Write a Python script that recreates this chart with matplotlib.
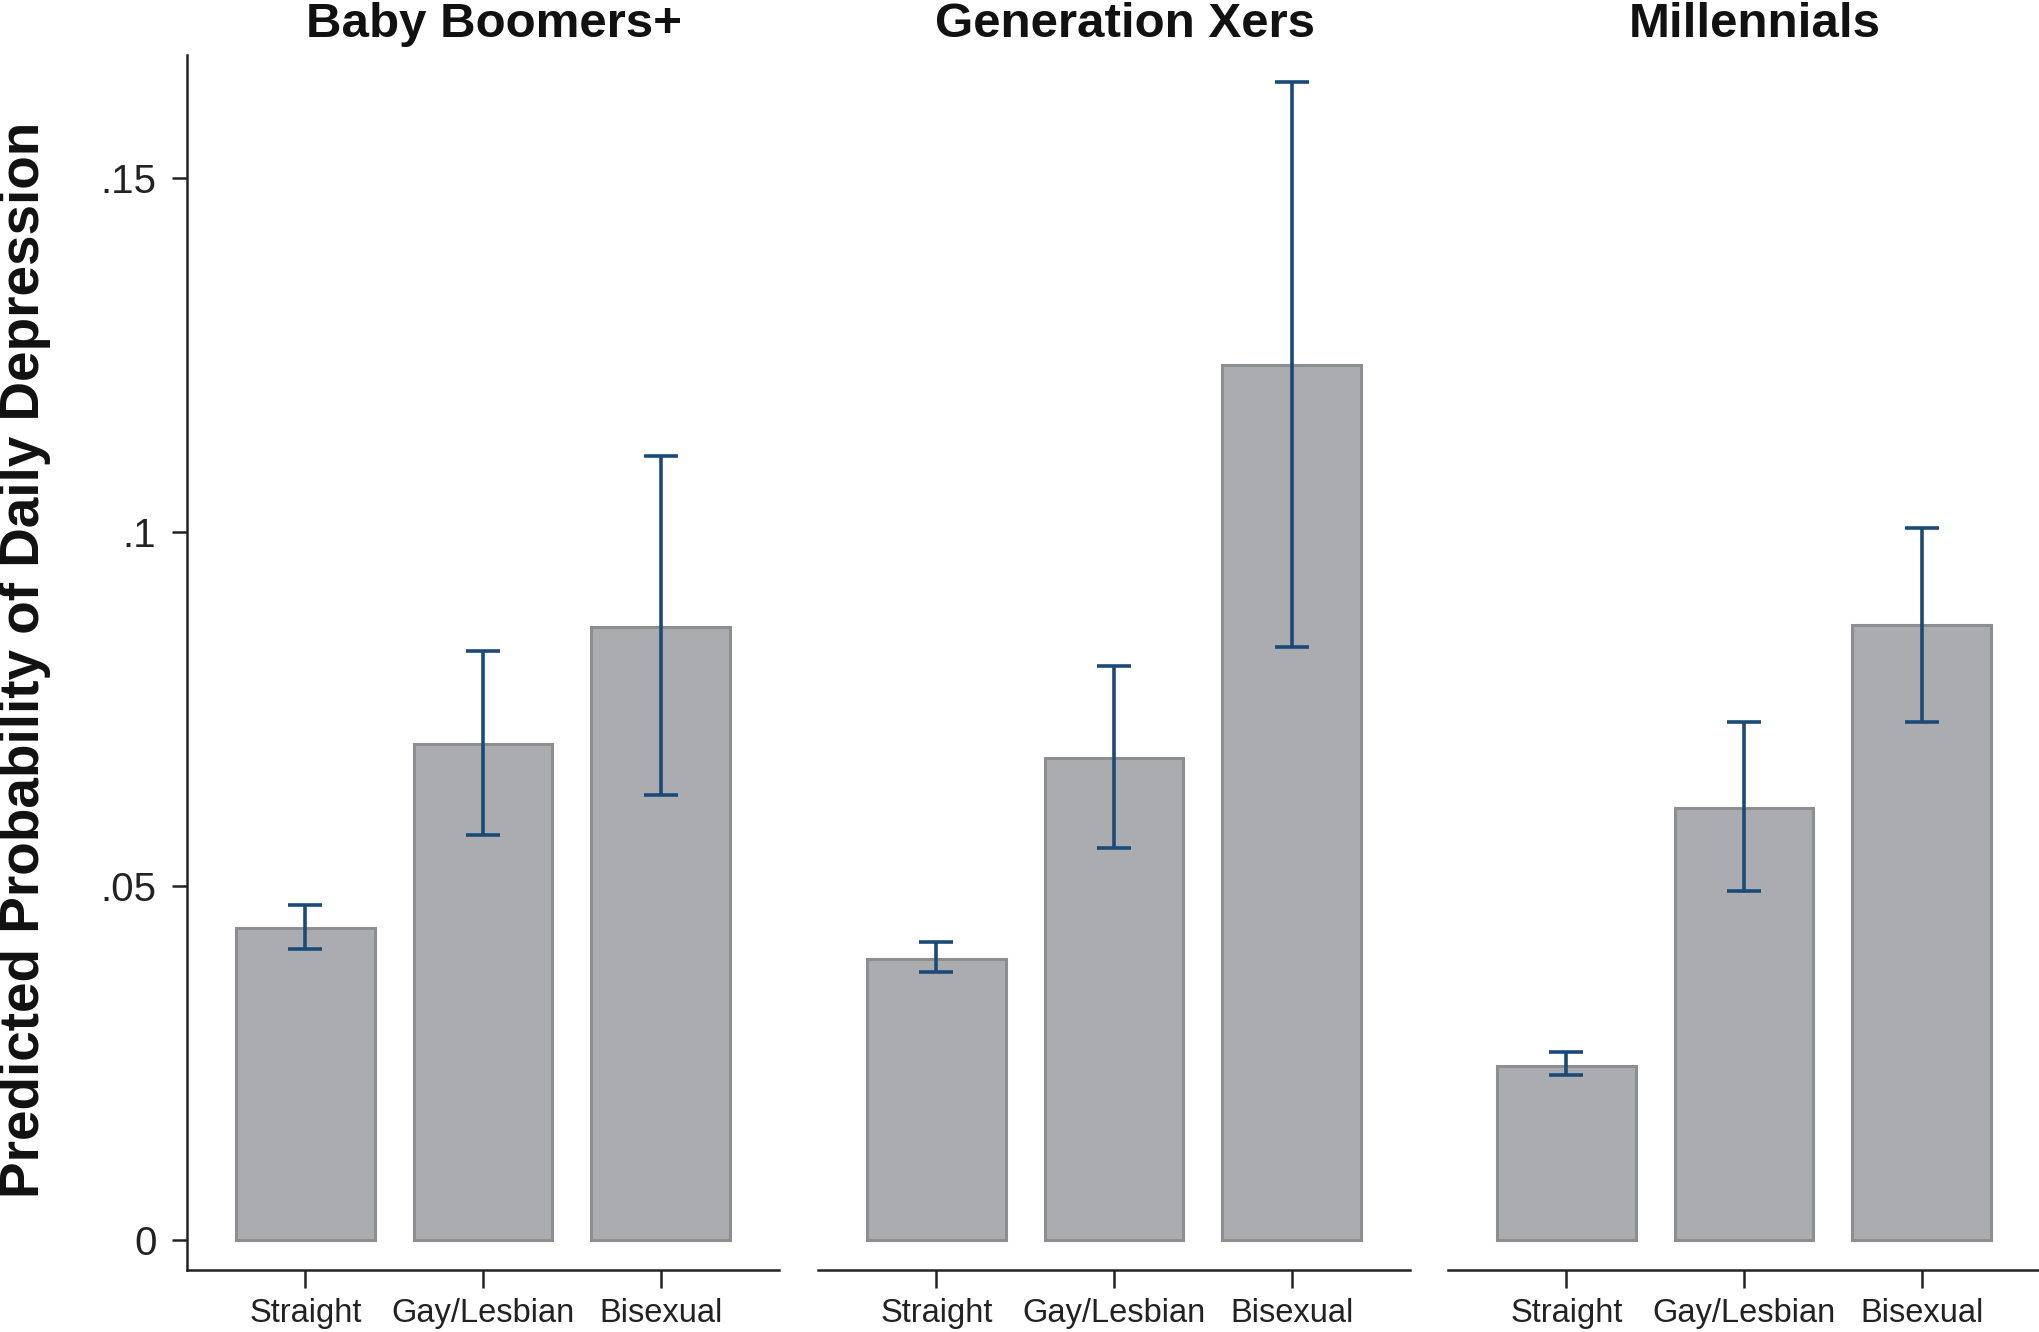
import matplotlib
matplotlib.use("Agg")
import matplotlib.pyplot as plt
import numpy as np

plt.rcParams['font.family'] = ['Liberation Sans', 'DejaVu Sans']

panels = ["Baby Boomers+", "Generation Xers", "Millennials"]
categories = ["Straight", "Gay/Lesbian", "Bisexual"]
values = [
    [0.0440, 0.0701, 0.0866],
    [0.0397, 0.0680, 0.1235],
    [0.0246, 0.0610, 0.0868],
]
ci_low = [
    [0.0411, 0.0572, 0.0628],
    [0.0379, 0.0553, 0.0838],
    [0.0233, 0.0493, 0.0732],
]
ci_high = [
    [0.0473, 0.0832, 0.1107],
    [0.0421, 0.0811, 0.1636],
    [0.0265, 0.0732, 0.1006],
]
yticks = [0, 0.05, 0.10, 0.15]
yticklabels = ["0", ".05", ".1", ".15"]
ylabel = "Predicted Probability of Daily Depression"

W, H = 2040, 1332
fig = plt.figure(figsize=(W / 100, H / 100), dpi=100)

bar_face = "#abacb0"
bar_edge = "#8d8e92"
err_col = "#1b4a78"

lefts = [187, 818, 1448]
pw = 592
top_px, bot_px = 54.6, 1270
x = np.arange(len(categories))

for i, name in enumerate(panels):
    ax = fig.add_axes([lefts[i] / W, (H - bot_px) / H, pw / W, (bot_px - top_px) / H])
    v = np.array(values[i])
    lo = np.array(ci_low[i])
    hi = np.array(ci_high[i])
    ax.bar(x, v, width=0.78, color=bar_face, edgecolor=bar_edge, linewidth=2.2, zorder=2)
    ax.errorbar(x, v, yerr=[v - lo, hi - v], fmt="none", ecolor=err_col,
                elinewidth=2.6, capsize=12, capthick=2.6, zorder=3)
    ax.set_xlim(-0.667, 2.667)
    ax.set_ylim(-0.00424, 0.1674)
    ax.set_xticks(x)
    ax.set_xticklabels(categories, fontsize=23.5, color="#222222")
    ax.tick_params(axis="x", length=13, width=1.8, pad=7, color="#222222")
    for s in ["top", "right"]:
        ax.spines[s].set_visible(False)
    ax.spines["bottom"].set_linewidth(1.8)
    ax.spines["bottom"].set_color("#222222")
    if i == 0:
        ax.set_yticks(yticks)
        ax.set_yticklabels(yticklabels, fontsize=29, color="#222222")
        ax.tick_params(axis="y", length=11, width=1.8, pad=11, color="#222222")
        ax.spines["left"].set_linewidth(1.8)
        ax.spines["left"].set_color("#222222")
    else:
        ax.spines["left"].set_visible(False)
        ax.set_yticks([])
    ax.text(0.5 + 11 / pw, 1.0 + 18 / (bot_px - top_px), name, transform=ax.transAxes,
            ha="center", va="baseline", fontsize=35.5, fontweight="bold", color="#111111")

fig.text(25 / W, 1 - 660 / H, ylabel, rotation=90, ha="center", va="center",
         fontsize=39.5, fontweight="bold", color="#111111")

fig.savefig("out.png", dpi=100, facecolor="white")
